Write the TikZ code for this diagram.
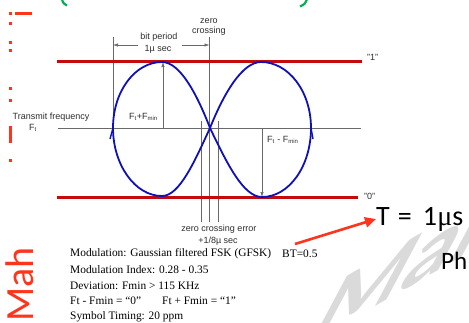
\documentclass[tikz,border=0pt]{standalone}
\usepackage{fontspec}
\setmainfont{Liberation Serif}
\setsansfont{Liberation Sans}
\newfontfamily\carlito{Carlito}
\newfontfamily\serifmu{Liberation Serif}
\usetikzlibrary{arrows.meta}
\definecolor{barred}{RGB}{196,10,10}
\definecolor{wave}{RGB}{16,16,184}
\definecolor{guide}{RGB}{105,105,105}
\definecolor{labeltext}{RGB}{45,45,45}
\definecolor{slidered}{RGB}{255,52,28}
\definecolor{slidegreen}{RGB}{0,175,85}
\definecolor{wm}{RGB}{218,218,218}
\begin{document}
\begin{tikzpicture}[x=1pt,y=-1pt,
  guideline/.style={draw=guide, line width=0.6pt},
  level/.style={draw=barred, line width=3.6pt},
  wavecurve/.style={draw=wave, line width=1.8pt},
  lbl/.style={font=\sffamily\fontsize{9}{10}\selectfont, text=labeltext, inner sep=0pt},
  spec/.style={font=\fontsize{11.4}{12}\selectfont, anchor=west, inner sep=0pt},
  dimarrow/.style={guideline, -{Latex[length=5pt,width=3.4pt]}},
  dotmark/.style={fill=slidered},
]
\useasboundingbox (0,0) rectangle (469,322);

% watermark (sheared, rising to the right)
\begin{scope}[shift={(304,348)}]
  \begin{scope}[cm={0.866,0.5,0.47,0.88,(0,0)}]
    \node[transform shape, text=wm, font=\carlito\bfseries\fontsize{118}{118}\selectfont, anchor=base west, inner sep=0pt] (wmk) at (0,0) {Mah};
  \end{scope}
\end{scope}

% slide fragments at the edges
\node[text=slidered, font=\carlito\fontsize{40}{40}\selectfont, rotate=90, anchor=base west, inner sep=0pt] (side) at (33,345) {r Mah};
\fill[dotmark] (8.5,11.5) rectangle ++(3,3);
\fill[dotmark] (15,11.8) rectangle (32,14.6);
\fill[dotmark] (8.5,21.5) rectangle ++(3,3);
\fill[dotmark] (8.5,40.5) rectangle ++(3,3);
\fill[dotmark] (8.5,48.5) rectangle ++(3,3);
\fill[dotmark] (8.5,86.5) rectangle ++(3,3);
\fill[dotmark] (8.5,98.5) rectangle ++(3,3);
\fill[dotmark] (8.5,126) rectangle (11.5,143);
\fill[dotmark] (8.5,158.5) rectangle ++(3,3);
\draw[slidegreen, line width=2.2pt] (62,-1) .. controls (63,3) .. (67,5.5);
\draw[slidegreen, line width=2.2pt] (307,-1) .. controls (305,4) .. (300,6.5);

% named points
\coordinate (L) at (113,128);
\coordinate (T1) at (162,62);
\coordinate (B1) at (162,196);
\coordinate (C) at (210,128);
\coordinate (T2) at (261,62);
\coordinate (R) at (311,128);
\coordinate (B2) at (262,197);

% levels and axis
\coordinate (lv1a) at (57,61.5);  \coordinate (lv1b) at (362,61.5);
\coordinate (lv0a) at (57,197.5); \coordinate (lv0b) at (358,197.5);
\coordinate (axa) at (58,128);    \coordinate (axb) at (361,128);
\draw[guideline] (axa) -- (axb);

% vertical guides
\coordinate (gLt) at (113,37);
\coordinate (gCt) at (209.5,37);  \coordinate (gCb) at (209.5,222);
\coordinate (gEt) at (201,121);   \coordinate (gEb) at (201,222);
\coordinate (gFt) at (218,121);   \coordinate (gFb) at (218,222);
\draw[guideline] (gLt) -- (L);
\draw[guideline] (gCt) -- (gCb);
\draw[guideline] (gEt) -- (gEb);
\draw[guideline] (gFt) -- (gFb);

% bit period dimension
\coordinate (bpL) at (113,45);  \coordinate (bpLs) at (138,45);
\coordinate (bpR) at (209.5,45); \coordinate (bpRs) at (182,45);
\draw[dimarrow] (bpLs) -- (bpL);
\draw[dimarrow] (bpRs) -- (bpR);

% deviation arrows
\coordinate (upB) at (163,128); \coordinate (upT) at (163,62);
\coordinate (dnT) at (262,128); \coordinate (dnB) at (262,197);
\draw[dimarrow] (upB) -- (upT);
\draw[dimarrow] (dnT) -- (dnB);

\draw[level] (lv1a) -- (lv1b);
\draw[level] (lv0a) -- (lv0b);

% waveform
\draw[wavecurve] (C) .. controls (197,94.2) and (180,62) .. (T1)
  .. controls (134.9,62) and (113,91.5) .. (L)
  .. controls (113,164.5) and (134.9,196) .. (B1)
  .. controls (179.4,196) and (194.4,161.8) .. (C);
\draw[wavecurve] (C) .. controls (223.5,94.2) and (242,62) .. (T2)
  .. controls (288.6,62) and (311,91.5) .. (R)
  .. controls (311,166.1) and (289.1,197) .. (B2)
  .. controls (243.2,197) and (227,163.3) .. (C);
\coordinate (barbL) at (110,139);
\coordinate (barbR) at (313,139);
\draw[wavecurve, line width=1.4pt] (L) -- (barbL);
\draw[wavecurve, line width=1.4pt] (R) -- (barbR);

% labels
\node[lbl] (bitp) at (159,37) {bit period};
\node[lbl] (bitus) at (158,49) {1µ sec};
\node[lbl] (zc1) at (209,21) {zero};
\node[lbl] (zc2) at (209,31.5) {crossing};
\node[lbl] (tf) at (51,117) {Transmit frequency};
\node[lbl] (tfF) at (33,128) {F\textsubscript{t}};
\node[lbl, anchor=east] (fplus) at (158,117) {F\textsubscript{t}+F\textsubscript{min}};
\node[lbl, anchor=west] (fminus) at (267,140) {F\textsubscript{t} - F\textsubscript{min}};
\node[lbl, anchor=west] (one) at (367,57) {"1"};
\node[lbl, anchor=west] (zero) at (364,196.5) {"0"};
\node[lbl] (zce) at (219,229) {zero crossing error};
\node[lbl] (zce2) at (218,241) {+1/8µ sec};

% specification text
\node[spec] (s1) at (70,254) {Modulation: Gaussian filtered FSK (GFSK)};
\node[spec] (s1b) at (282,254) {BT=0.5};
\node[spec] (s2) at (70,270) {Modulation Index: 0.28 - 0.35};
\node[spec] (s3) at (70,286) {Deviation: Fmin > 115 KHz};
\node[spec] (s4) at (70,301) {Ft - Fmin = “0”};
\node[spec] (s4b) at (162,301) {Ft + Fmin = “1”};
\node[spec] (s5) at (70,317) {Symbol Timing: 20 ppm};

% slide annotation
\node[font=\carlito\fontsize{28}{28}\selectfont, anchor=base west, inner sep=0pt] (Tval) at (376,225) {T\kern 8pt=\kern 11pt1\kern 0.5pt{\serifmu μ}s};
\node[font=\carlito\fontsize{25}{25}\selectfont, anchor=base west, inner sep=0pt] (Ph) at (441,269) {Ph};
\coordinate (rtail) at (295,244);
\draw[slidered, line width=2.6pt, -{Triangle[length=11pt,width=10pt]}] (rtail) -- (Tval.west);
\end{tikzpicture}
\end{document}
